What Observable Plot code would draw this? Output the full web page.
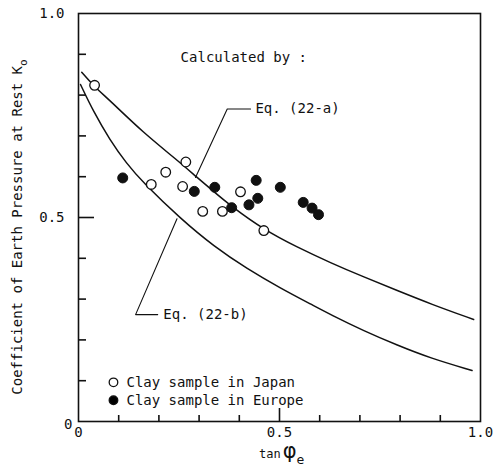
<!DOCTYPE html>
<html><head><meta charset="utf-8">
<script src="https://cdn.jsdelivr.net/npm/d3@7"></script>
<script src="https://cdn.jsdelivr.net/npm/@observablehq/plot@0.6"></script>
<style>body{margin:0;background:#fff;}</style>
</head><body><div id="chart"></div>
<script>
// Clay sample in Japan (open circles)
const japanTan = [0.040, 0.181, 0.217, 0.267, 0.259, 0.309, 0.358, 0.403, 0.461];
const japanK0  = [0.824, 0.581, 0.611, 0.636, 0.576, 0.515, 0.515, 0.563, 0.468];
// Clay sample in Europe (filled circles)
const europeTan = [0.110, 0.288, 0.339, 0.381, 0.424, 0.442, 0.446, 0.502, 0.559, 0.581, 0.597];
const europeK0  = [0.597, 0.564, 0.574, 0.524, 0.531, 0.591, 0.547, 0.574, 0.537, 0.523, 0.507];
// Eq. (22-a) curve
const eqATan = [0.008, 0.038, 0.078, 0.161, 0.244, 0.294, 0.337, 0.378, 0.461, 0.544, 0.627, 0.710, 0.793, 0.876, 0.983];
const eqAK0  = [0.856, 0.822, 0.787, 0.708, 0.642, 0.599, 0.563, 0.529, 0.470, 0.427, 0.389, 0.354, 0.321, 0.288, 0.250];
// Eq. (22-b) curve
const eqBTan = [0.005, 0.037, 0.078, 0.119, 0.161, 0.254, 0.337, 0.420, 0.502, 0.585, 0.627, 0.710, 0.793, 0.876, 0.979];
const eqBK0  = [0.826, 0.760, 0.690, 0.633, 0.585, 0.497, 0.429, 0.374, 0.327, 0.284, 0.262, 0.222, 0.187, 0.155, 0.125];
// Axis ticks
const minorTicks = [0.1, 0.2, 0.3, 0.4, 0.6, 0.7, 0.8, 0.9];
const majorTicks = [0.5];
const tickLabels = [0, 0.5, 1.0];
// Annotation texts
const calcText = "Calculated by :";
const eqALabel = "Eq.\u2009(22-a)";
const eqBLabel = "Eq.\u2009(22-b)";
const legendLabels = ["Clay sample in Japan", "Clay sample in Europe"];

const zip = (xs, ys) => xs.map((x, i) => ({x, y: ys[i]}));
const japan = zip(japanTan, japanK0);
const europe = zip(europeTan, europeK0);
const eqA = zip(eqATan, eqAK0);
const eqB = zip(eqBTan, eqBK0);

// annotation anchors (data units)
const leaderA = [{x: 0.291, y: 0.598}, {x: 0.370, y: 0.766}, {x: 0.428, y: 0.766}];
const leaderB = [{x: 0.245, y: 0.497}, {x: 0.142, y: 0.262}, {x: 0.197, y: 0.262}];
const legend = [
  {x: 0.087, y: 0.096, label: legendLabels[0], fill: "white"},
  {x: 0.087, y: 0.052, label: legendLabels[1], fill: "black"}
];

const FONT = "DejaVu Sans Mono, monospace";
const ink = "#111";
const W = 496, H = 468, ML = 78, MR = 16, MT = 13, MB = 47;
const fw = W - ML - MR, fh = H - MT - MB;
// inward tick lengths in data units (px / frame size)
const yMinorLen = 8 / fw, yMajorLen = 16 / fw, xMinorLen = 6 / fh, xMajorLen = 13 / fh;

const plot = Plot.plot({
  width: W, height: H,
  marginLeft: ML, marginRight: MR, marginTop: MT, marginBottom: MB,
  x: {domain: [0, 1]}, y: {domain: [0, 1]},
  style: {fontFamily: FONT, fontSize: "14px", color: ink, background: "white"},
  marks: [
    // inward ticks
    Plot.ruleY(minorTicks, {y: d => d, x1: 0, x2: yMinorLen, stroke: ink, strokeWidth: 1.6}),
    Plot.ruleY(majorTicks, {y: d => d, x1: 0, x2: yMajorLen, stroke: ink, strokeWidth: 1.6}),
    Plot.ruleX(minorTicks, {x: d => d, y1: 0, y2: xMinorLen, stroke: ink, strokeWidth: 1.6}),
    Plot.ruleX(majorTicks, {x: d => d, y1: 0, y2: xMajorLen, stroke: ink, strokeWidth: 1.6}),
    Plot.axisY({ticks: tickLabels.filter(d => d > 0), tickSize: 0, tickPadding: 14, tickFormat: d3.format(".1f"), label: null, fontSize: 14}),
    Plot.axisY({ticks: [0], tickSize: 0, tickPadding: 6, dy: 3, tickFormat: () => "0", label: null, fontSize: 14}),
    Plot.axisX({ticks: tickLabels, tickSize: 0, tickPadding: 6, tickFormat: d => d === 0 ? "0" : d3.format(".1f")(d), label: null, fontSize: 14}),
    Plot.frame({stroke: ink, strokeWidth: 1.6}),
    Plot.line(eqA, {x: "x", y: "y", curve: "basis", stroke: ink, strokeWidth: 1.5}),
    Plot.line(eqB, {x: "x", y: "y", curve: "basis", stroke: ink, strokeWidth: 1.5}),
    Plot.line(leaderA, {x: "x", y: "y", stroke: ink, strokeWidth: 1.1}),
    Plot.line(leaderB, {x: "x", y: "y", stroke: ink, strokeWidth: 1.1}),
    Plot.text([eqALabel], {x: 0.440, y: 0.766, text: d => d, textAnchor: "start", fontSize: 14}),
    Plot.text([eqBLabel], {x: 0.211, y: 0.262, text: d => d, textAnchor: "start", fontSize: 14}),
    Plot.text([calcText], {x: 0.254, y: 0.892, text: d => d, textAnchor: "start", fontSize: 14}),
    Plot.dot(japan, {x: "x", y: "y", r: 4.8, fill: "white", stroke: ink, strokeWidth: 1.3}),
    Plot.dot(europe, {x: "x", y: "y", r: 5, fill: ink, stroke: ink, strokeWidth: 1}),
    Plot.dot(legend, {x: "x", y: "y", r: 4.3, fill: "fill", stroke: ink, strokeWidth: 1.3}),
    Plot.text(legend, {x: "x", y: "y", text: "label", dx: 13, textAnchor: "start", fontSize: 14})
  ]
});

const svg = d3.select(plot);
// y-axis title
const yt = svg.append("text")
  .attr("transform", "translate(22,227) rotate(-90)")
  .attr("text-anchor", "middle")
  .attr("font-family", FONT).attr("font-size", 14).attr("fill", ink);
yt.append("tspan").text("Coefficient of Earth Pressure at Rest K");
yt.append("tspan").attr("font-size", 11).attr("dy", 5).text("o");
// x-axis title
const xt = svg.append("text")
  .attr("x", 259).attr("y", 458)
  .attr("text-anchor", "start")
  .attr("font-family", FONT).attr("font-size", 12).attr("fill", ink);
xt.append("tspan").text("tan");
xt.append("tspan").attr("font-size", 21).attr("dx", 2).attr("font-family", "DejaVu Sans").text("\u03C6");
xt.append("tspan").attr("font-size", 13).attr("dy", 6).text("e");

document.getElementById("chart").appendChild(plot);
</script>
</body></html>
